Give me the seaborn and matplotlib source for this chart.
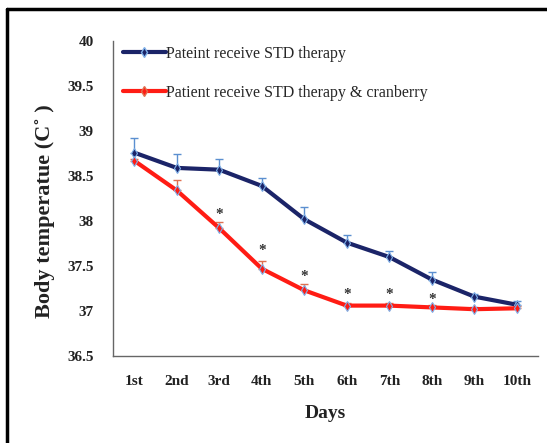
import numpy as np
import pandas as pd
import matplotlib
matplotlib.use("Agg")
import matplotlib.pyplot as plt
from matplotlib.lines import Line2D
import seaborn as sns

# Dados
days = ['1st', '2nd', '3rd', '4th', '5th', '6th', '7th', '8th', '9th', '10th']
std_temp = [38.76, 38.59, 38.57, 38.39, 38.02, 37.76, 37.60, 37.35, 37.16, 37.07]
std_err = [0.16, 0.15, 0.12, 0.09, 0.13, 0.08, 0.07, 0.08, 0.03, 0.04]
cran_temp = [38.67, 38.34, 37.92, 37.47, 37.23, 37.06, 37.06, 37.04, 37.02, 37.03]
cran_err = [0.02, 0.12, 0.07, 0.09, 0.07, 0.03, 0.03, 0.03, 0.02, 0.02]
star_days = ['3rd', '4th', '5th', '6th', '7th', '8th']
star_y = [38.07, 37.67, 37.38, 37.18, 37.18, 37.13]

lab_std = 'Pateint receive STD therapy'
lab_cran = 'Patient receive STD therapy & cranberry'

df = pd.DataFrame({
    'Days': days * 2,
    'Temp': std_temp + cran_temp,
    'Grupo': [lab_std] * len(days) + [lab_cran] * len(days),
})

sns.set_style('white')
plt.rcParams['font.family'] = ['Liberation Serif', 'DejaVu Serif']

fig = plt.figure(figsize=(5.47, 4.43), dpi=100)
ax = fig.add_axes([113 / 547, 1 - 356 / 443, 425 / 547, 315 / 443])

navy = '#1b2468'
red = '#ff1c14'
x = np.arange(len(days))

# barras de erro (so superior)
ax.errorbar(x, std_temp, yerr=[np.zeros(len(days)), std_err], fmt='none',
            ecolor='#5b8fd0', elinewidth=1, capsize=3, capthick=1, zorder=1)
ax.errorbar(x, cran_temp, yerr=[np.zeros(len(days)), cran_err], fmt='none',
            ecolor='#e07050', elinewidth=1, capsize=3, capthick=1, zorder=1)

sns.lineplot(data=df, x='Days', y='Temp', hue='Grupo', palette=[navy, red],
             linewidth=3, marker='d', markersize=5, markeredgecolor='#7fb0e8',
             markeredgewidth=0.8, sort=False, legend=False, ax=ax, zorder=3)

for d, s in zip(star_days, star_y):
    ax.text(days.index(d), s, '*', ha='center', va='center', fontsize=11,
            fontweight='bold', color='#333333')

ax.set_xlim(-0.5, 9.5)
ax.set_ylim(36.5, 40)
ax.set_yticks(np.arange(36.5, 40.01, 0.5))
ax.set_yticklabels(['36.5', '37', '37.5', '38', '38.5', '39', '39.5', '40'])
ax.set_xticks(x)
ax.set_xticklabels(days)
ax.set_xticks(np.arange(0.5, 9.6, 1), minor=True)
ax.tick_params(axis='x', which='major', length=0, pad=14)
ax.tick_params(axis='x', which='minor', length=4, width=0.8, color='#555555',
               direction='inout')
ax.tick_params(axis='y', length=4, width=0.8, color='#555555', direction='out',
               pad=10)
for t in ax.get_xticklabels() + ax.get_yticklabels():
    t.set_fontweight('bold')
    t.set_fontsize(11)
    t.set_color('#222222')

for side in ['top', 'right']:
    ax.spines[side].set_visible(False)
for side in ['left', 'bottom']:
    ax.spines[side].set_color('#666666')
    ax.spines[side].set_linewidth(1)

ax.set_xlabel('Days', fontsize=14, fontweight='bold', color='#222222', labelpad=12)
ax.set_ylabel('Body temperatue (C˚ )', fontsize=16, fontweight='bold',
              color='#222222')
ax.yaxis.set_label_coords(-58 / 425, 0.46)

handles = [
    Line2D([0], [0], color=navy, lw=3, marker='d', markersize=5,
           markeredgecolor='#7fb0e8'),
    Line2D([0], [0], color=red, lw=3, marker='d', markersize=5,
           markeredgecolor='#e07050'),
]
ax.legend(handles, [lab_std, lab_cran], loc='upper left', frameon=False,
          fontsize=11.5, handlelength=2.7, handletextpad=0.0,
          labelspacing=1.45, bbox_to_anchor=(0.0, 1.015), borderaxespad=0.2)

# moldura da figura (esquerda e topo)
fig.add_artist(Line2D([7 / 547, 7 / 547], [0, 1 - 9 / 443], color='black',
                      lw=2.5, transform=fig.transFigure))
fig.add_artist(Line2D([7 / 547, 1], [1 - 9 / 443, 1 - 9 / 443], color='black',
                      lw=2.5, transform=fig.transFigure))

fig.savefig('out.png', dpi=100)
